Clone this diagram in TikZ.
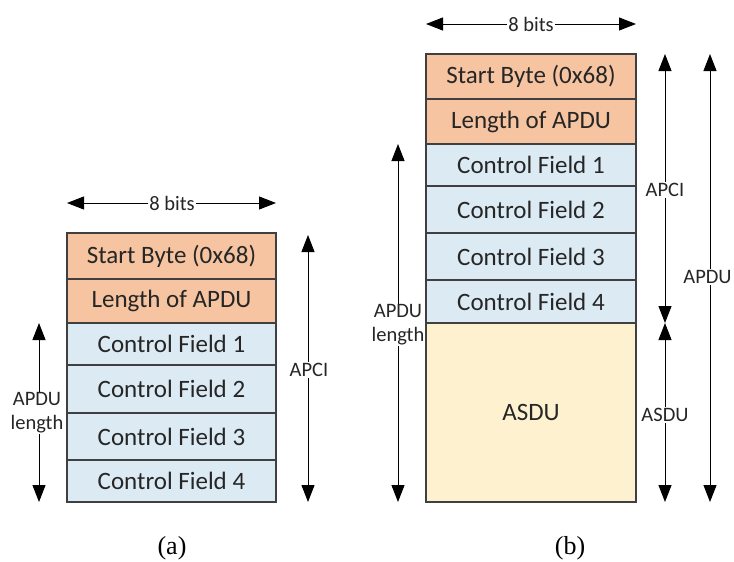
\documentclass[tikz,border=0pt]{standalone}
\usepackage{fontspec}
\setmainfont{Carlito}
\newfontfamily\capfont{Liberation Serif}
\usetikzlibrary{arrows.meta}
\definecolor{hdrfill}{HTML}{F6C4A0}
\definecolor{ctlfill}{HTML}{DCEAF4}
\definecolor{asdufill}{HTML}{FDF1D0}
\definecolor{inkc}{HTML}{262626}
\definecolor{edgec}{HTML}{404040}
\tikzset{
  field/.style={draw=edgec, line width=1.2pt, text=inkc, font=\fontsize{25}{27}\selectfont,
    inner sep=0pt, anchor=center},
  fieldA/.style={field, minimum width=209pt},
  fieldB/.style={field, minimum width=210pt},
  dim/.style={draw=black, line width=1pt, {Triangle[width=13pt,length=17pt]}-{Triangle[width=13pt,length=17pt]}},
  dimlabel/.style={fill=white, text=inkc, inner sep=1pt, font=\fontsize{20.5}{24}\selectfont, align=center},
  caption/.style={font=\capfont\fontsize{26}{28}\selectfont, text=black}
}
\begin{document}
\begin{tikzpicture}[x=1pt, y=-1pt]
\useasboundingbox (0,0) rectangle (734,562);

% ---- frame (a): APCI only ----
\coordinate (aw1) at (67,203);   \coordinate (aw2) at (276,203);
\coordinate (ac1) at (308,235);  \coordinate (ac2) at (308,502);
\coordinate (al1) at (39,323);   \coordinate (al2) at (39,502);

\draw[dim] (aw1) -- (aw2);
\node[dimlabel] (awl) at (172,203) {8 bits};
\draw[dim] (ac1) -- (ac2);
\node[dimlabel] (acl) at (309,370) {APCI};
\draw[dim] (al1) -- (al2);
\node[dimlabel] (all) at (37,413) {APDU\\length};

\node[fieldA, fill=hdrfill, minimum height=46pt] (a1) at (171.5,256) {Start Byte (0x68)};
\node[fieldA, fill=hdrfill, minimum height=44pt] (a2) at (171.5,301) {Length of APDU};
\node[fieldA, fill=ctlfill, minimum height=42pt] (a3) at (171.5,344) {Control Field 1};
\node[fieldA, fill=ctlfill, minimum height=48pt] (a4) at (171.5,389) {Control Field 2};
\node[fieldA, fill=ctlfill, minimum height=47pt] (a5) at (171.5,436.5) {Control Field 3};
\node[fieldA, fill=ctlfill, minimum height=42pt] (a6) at (171.5,481) {Control Field 4};

\node[caption] (capa) at (172,548) {(a)};

% ---- frame (b): APCI followed by ASDU ----
\coordinate (bw1) at (426,24);   \coordinate (bw2) at (636,24);
\coordinate (bl1) at (398,144);  \coordinate (bl2) at (398,502);
\coordinate (bc1) at (665,54);   \coordinate (bc2) at (665,323);
\coordinate (bs1) at (665,323);  \coordinate (bs2) at (665,502);
\coordinate (bp1) at (710,54);   \coordinate (bp2) at (710,502);

\draw[dim] (bw1) -- (bw2);
\node[dimlabel] (bwl) at (531,24) {8 bits};
\draw[dim] (bl1) -- (bl2);
\node[dimlabel] (bll) at (398,325) {APDU\\length};
\draw[dim] (bc1) -- (bc2);
\node[dimlabel] (bcl) at (665,190) {APCI};
\draw[dim] (bs1) -- (bs2);
\node[dimlabel] (bsl) at (665,415) {ASDU};
\draw[dim] (bp1) -- (bp2);
\node[dimlabel] (bpl) at (707.5,277) {APDU};

\node[fieldB, fill=hdrfill, minimum height=45pt] (b1) at (531,76.5) {Start Byte (0x68)};
\node[fieldB, fill=hdrfill, minimum height=45pt] (b2) at (531,121.5) {Length of APDU};
\node[fieldB, fill=ctlfill, minimum height=42pt] (b3) at (531,165) {Control Field 1};
\node[fieldB, fill=ctlfill, minimum height=47pt] (b4) at (531,209.5) {Control Field 2};
\node[fieldB, fill=ctlfill, minimum height=47pt] (b5) at (531,256.5) {Control Field 3};
\node[fieldB, fill=ctlfill, minimum height=43pt] (b6) at (531,301.5) {Control Field 4};
\node[fieldB, fill=asdufill, minimum height=179pt] (b7) at (531,412.5) {ASDU};

\node[caption] (capb) at (570,548) {(b)};
\end{tikzpicture}
\end{document}
